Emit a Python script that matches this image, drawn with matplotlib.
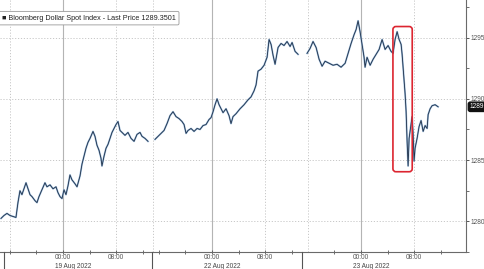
import matplotlib
matplotlib.use("Agg")
import matplotlib.pyplot as plt
import matplotlib.transforms as mtransforms
from matplotlib.patches import FancyBboxPatch
import numpy as np

plt.rcParams["font.family"] = ["Liberation Sans", "DejaVu Sans"]

# chart-hours on the compressed (trading) time axis, 0 = 00:00 19 Aug 2022
hours = [-9.32, -8.87, -8.42, -7.97, -7.52, -7.07, -6.77, -6.47, -6.17, -5.86,
         -5.56, -5.26, -4.96, -4.66, -4.21, -3.91, -3.61, -3.16, -2.71, -2.41,
         -1.95, -1.50, -1.05, -0.75, -0.45, -0.15, 0.15, 0.45, 0.75, 1.05,
         1.35, 1.80, 2.11, 2.56, 2.86, 3.16, 3.46, 3.76, 4.06, 4.51,
         4.81, 5.11, 5.41, 5.71, 5.86, 6.17, 6.47, 6.77, 7.07, 7.37,
         7.67, 7.97, 8.27, 8.57, 8.87, 9.32, 9.77, 10.23, 10.68, 11.13,
         11.58, 11.88, 12.33, 12.78, 13.30,
         13.83, 14.29, 14.74, 15.19, 15.64, 16.09, 16.54, 16.99, 17.44, 17.89,
         18.20, 18.50, 18.80, 19.25, 19.70, 20.15, 20.60, 21.05, 21.50, 21.95,
         22.26, 22.56, 22.86, 23.16, 23.46, 23.76, 24.06, 24.51, 24.96, 25.26,
         25.56, 26.02, 26.62, 27.22, 27.82, 28.27, 28.72, 29.02, 29.32, 29.77,
         30.23, 30.68, 30.98, 31.28, 31.58, 31.88, 32.33, 32.78, 33.23, 33.68,
         34.14, 34.44, 34.89, 35.34, 36.00,
         36.69, 37.14, 37.59, 38.05, 38.50, 38.95, 39.40, 40.00, 40.60, 41.20,
         41.80, 42.41, 42.86, 43.31, 43.76, 44.06, 44.36, 44.66, 44.96, 45.26,
         45.41, 45.71, 46.17, 46.62, 47.07, 47.52, 47.97, 48.42, 48.87, 49.32,
         49.62, 49.92, 50.23, 50.53, 50.83, 50.98, 51.13, 51.28, 51.43, 51.58,
         51.73, 51.88, 52.03, 52.33, 52.48, 52.63, 52.78, 52.93, 53.23, 53.53,
         53.83, 54.14, 54.44, 54.74, 54.89, 55.19, 55.49, 55.94, 56.39]

price = [1280.24, 1280.48, 1280.65, 1280.48, 1280.40, 1280.32, 1281.53, 1282.50, 1282.18, 1282.66,
         1283.15, 1282.66, 1282.18, 1282.02, 1281.69, 1281.53, 1282.02, 1282.58, 1283.15, 1282.82,
         1282.98, 1282.66, 1282.82, 1282.34, 1282.02, 1281.86, 1282.58, 1282.18, 1282.90, 1283.79,
         1283.39, 1283.07, 1282.82, 1283.71, 1284.68, 1285.32, 1285.97, 1286.45, 1286.77, 1287.34,
         1286.94, 1286.21, 1285.81, 1285.16, 1284.52, 1285.32, 1285.97, 1286.29, 1286.77, 1287.26,
         1287.58, 1287.90, 1288.15, 1287.42, 1287.26, 1287.02, 1287.26, 1286.77, 1286.53, 1287.10,
         1287.26, 1286.94, 1286.77, 1286.53, np.nan,
         1286.69, 1286.94, 1287.18, 1287.42, 1287.98, 1288.63, 1288.95, 1288.55, 1288.39, 1288.15,
         1287.90, 1287.18, 1287.42, 1287.58, 1287.34, 1287.58, 1287.50, 1287.82, 1287.90, 1288.31,
         1288.47, 1288.95, 1289.52, 1290.00, 1289.52, 1289.19, 1288.87, 1289.19, 1288.63, 1287.98,
         1288.55, 1288.79, 1289.19, 1289.52, 1289.92, 1290.16, 1290.65, 1291.13, 1292.26, 1292.42,
         1292.74, 1293.39, 1294.84, 1294.44, 1293.55, 1292.82, 1294.19, 1294.52, 1294.35, 1294.68,
         1294.27, 1294.60, 1293.87, 1293.63, np.nan,
         1293.71, 1294.11, 1294.68, 1294.19, 1293.23, 1292.66, 1293.07, 1292.90, 1292.74, 1292.82,
         1292.58, 1292.90, 1293.71, 1294.52, 1295.24, 1295.65, 1296.37, 1295.48, 1294.44, 1293.39,
         1292.58, 1293.39, 1292.74, 1293.23, 1293.63, 1294.03, 1294.84, 1294.03, 1294.35, 1293.87,
         1293.71, 1294.84, 1295.48, 1294.84, 1294.44, 1293.63, 1292.58, 1291.61, 1290.40, 1288.95,
         1286.53, 1284.52, 1286.77, 1287.98, 1288.55, 1287.18, 1284.92, 1285.97, 1286.77, 1287.74,
         1288.23, 1287.34, 1287.82, 1287.58, 1288.71, 1289.19, 1289.44, 1289.52, 1289.35]

last_price = 1289.3501
series_name = "Bloomberg Dollar Spot Index - Last Price"

major_pos = [0.0, 8.0, 22.4, 30.4, 44.8, 52.8]
major_labels = ["00:00", "08:00", "00:00", "08:00", "00:00", "08:00"]
solid_grid = [0.0, 22.4, 44.8]
dotted_grid = [-7.9, 8.0, 13.5, 30.4, 36.8, 52.8]
minor_pos = [-7.9, -4.0, 4.0, 12.0, 14.5, 18.4, 26.4, 34.4, 40.8, 48.8, 56.8]
date_pos = [1.6, 24.0, 46.4]
date_labels = ["19 Aug 2022", "22 Aug 2022", "23 Aug 2022"]
separators = [-8.9, 13.4, 35.9]

y_major = [1280, 1285, 1290, 1295]
y_minor = [1277.5, 1282.5, 1287.5, 1292.5, 1297.5]

box_x = [49.6, 52.5]
box_y = [1284.05, 1295.9]

fig = plt.figure(figsize=(4.85, 2.69), dpi=100)
ax = fig.add_axes([0.0, 0.0632, 0.9605, 0.9368])
ax.set_xlim(-9.47, 60.56)
ax.set_ylim(1277.74, 1298.065)

for g in solid_grid:
    ax.axvline(g, color="#b4b4b4", lw=0.8, zorder=0)
for g in dotted_grid:
    ax.axvline(g, color="#c8c8c8", lw=0.7, ls=(0, (1.2, 1.8)), zorder=0)
for g in y_major:
    ax.axhline(g, color="#c8c8c8", lw=0.7, ls=(0, (1.2, 1.8)), zorder=0)

ax.plot(hours, price, color="#9bbbdb", lw=1.3, zorder=2)
ax.plot(hours, price, color="#1f3048", lw=0.6, zorder=3)

rb = FancyBboxPatch((box_x[0], box_y[0]), box_x[1] - box_x[0], box_y[1] - box_y[0],
                    boxstyle="round,pad=0,rounding_size=0.45", mutation_aspect=0.55,
                    fill=False, edgecolor="#dc2530", lw=1.2, zorder=4)
ax.add_patch(rb)

for s in ["top", "left"]:
    ax.spines[s].set_visible(False)
for s in ["right", "bottom"]:
    ax.spines[s].set_color("#6a6a6a")
    ax.spines[s].set_linewidth(0.8)

ax.yaxis.tick_right()
ax.set_yticks(y_major)
ax.set_yticklabels([str(v) for v in y_major])
ax.set_yticks(y_minor, minor=True)
ax.tick_params(axis="y", which="major", direction="out", length=2.2, width=0.7,
               colors="#555555", labelsize=4.7, pad=1.0)
ax.tick_params(axis="y", which="minor", direction="out", length=1.8, width=0.6, colors="#555555")

ax.set_xticks(major_pos)
ax.set_xticklabels(major_labels)
ax.set_xticks(minor_pos, minor=True)
ax.tick_params(axis="x", which="major", direction="inout", length=2.4, width=0.6,
               colors="#555555", labelsize=4.7, pad=0.2)
ax.tick_params(axis="x", which="minor", direction="inout", length=2.4, width=0.6, colors="#555555")

trans = mtransforms.blended_transform_factory(ax.transData, fig.transFigure)
for p, lab in zip(date_pos, date_labels):
    fig.text(p, -0.004, lab, transform=trans, ha="center", va="bottom", fontsize=4.7, color="#444444")
for p in separators:
    fig.add_artist(plt.Line2D([p, p], [0.0, 0.0632], transform=trans, color="#555555", lw=0.8))

# last price tag
ytr = mtransforms.blended_transform_factory(fig.transFigure, ax.transData)
fig.text(0.968, last_price, f"{last_price:.2f}", transform=ytr, ha="left", va="center",
         fontsize=4.7, color="white",
         bbox=dict(boxstyle="round,pad=0.18,rounding_size=0.3", fc="#111111", ec="#111111"))

# legend box
leg_text = f"\u25A0 {series_name} {last_price:.4f}"
ax.text(0.004, 0.928, leg_text, transform=ax.transAxes, ha="left", va="center",
        fontsize=5.2, color="#222222",
        bbox=dict(boxstyle="round,pad=0.45,rounding_size=0.2", fc="white", ec="#999999", lw=0.6),
        zorder=6)

fig.savefig("out.png", dpi=100)
